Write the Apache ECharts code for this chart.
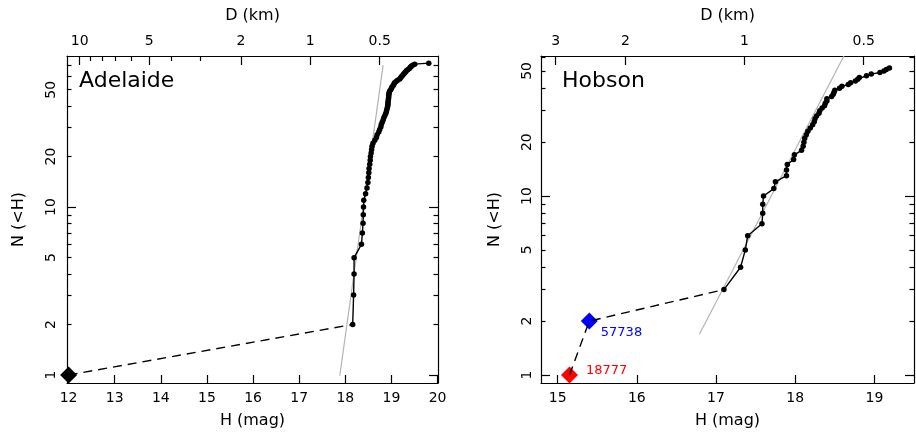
<!DOCTYPE html>
<html><head><meta charset="utf-8">
<script src="https://cdn.jsdelivr.net/npm/echarts@6/dist/echarts.min.js"></script>
<style>html,body{margin:0;padding:0;background:#fff}#c{width:916px;height:434px}</style>
</head><body><div id="c"></div>
<script>
// ---------- data ----------
const panelTitles = ['Adelaide', 'Hobson'];

// Adelaide family: cumulative N(<H)
const adelaideH = [12.00, 18.16, 18.18, 18.19, 18.19, 18.35, 18.37, 18.385, 18.39, 18.395,
  18.40, 18.44, 18.47, 18.49, 18.50, 18.51, 18.515, 18.53, 18.54, 18.545,
  18.56, 18.57, 18.58, 18.60, 18.64, 18.675, 18.69, 18.725, 18.745, 18.77,
  18.78, 18.80, 18.82, 18.835, 18.855, 18.875, 18.89, 18.90, 18.91, 18.92,
  18.925, 18.925, 18.93, 18.935, 18.94, 18.94, 18.945, 18.95, 18.96, 18.985,
  19.00, 19.015, 19.04, 19.055, 19.07, 19.10, 19.135, 19.18, 19.20, 19.22,
  19.245, 19.265, 19.29, 19.31, 19.33, 19.36, 19.39, 19.41, 19.43, 19.46,
  19.505, 19.81];
const adelaideN = [1, 2, 3, 4, 5, 6, 7, 8, 9, 10,
  11, 12, 13, 14, 15, 16, 17, 18, 19, 20,
  21, 22, 23, 24, 25, 26, 27, 28, 29, 30,
  31, 32, 33, 34, 35, 36, 37, 38, 39, 40,
  41, 42, 43, 44, 45, 46, 47, 48, 49, 50,
  51, 52, 53, 54, 55, 56, 57, 58, 59, 60,
  61, 62, 63, 64, 65, 66, 67, 68, 69, 70,
  71, 72];
const adelaideFitH = [17.88, 18.82];
const adelaideFitN = [0.99, 70];

// Hobson family
const hobsonH = [15.15, 15.40, 17.10, 17.31, 17.37, 17.40, 17.58, 17.59, 17.59, 17.60,
  17.73, 17.75, 17.89, 17.89, 17.90, 17.98, 17.99, 18.08, 18.10, 18.11,
  18.12, 18.14, 18.16, 18.19, 18.22, 18.24, 18.25, 18.27, 18.30, 18.31,
  18.34, 18.37, 18.38, 18.40, 18.40, 18.46, 18.48, 18.49, 18.50, 18.56,
  18.59, 18.67, 18.70, 18.76, 18.79, 18.81, 18.90, 18.96, 19.07, 19.12,
  19.15, 19.19];
const hobsonN = [1, 2, 3, 4, 5, 6, 7, 8, 9, 10,
  11, 12, 13, 14, 15, 16, 17, 18, 19, 20,
  21, 22, 23, 24, 25, 26, 27, 28, 29, 30,
  31, 32, 33, 34, 35, 36, 37, 38, 39, 40,
  41, 42, 43, 44, 45, 46, 47, 48, 49, 50,
  51, 52];
const hobsonFitH = [16.79, 18.615];
const hobsonFitN = [1.69, 60.6];
const hobsonNamed = ['18777', '57738'];   // first two members (diamonds)
const hobsonNamedColors = ['#ff0000', '#0000ff'];

// axes / ticks
const leftHRange = [11.965, 20.01];
const rightHRange = [14.79, 19.50];
const leftNRange = [0.896, 79.4];
const rightNRange = [0.902, 60.6];
const leftHTicks = [12, 13, 14, 15, 16, 17, 18, 19, 20];
const rightHTicks = [15, 16, 17, 18, 19];
const nLabelTicks = [1, 2, 5, 10, 20, 50];
const nMajorTicks = [1, 10];
const nMinorTicks = [2, 3, 4, 5, 6, 7, 8, 9, 20, 30, 40, 50, 60, 70];
const leftDMajor = [10, 5, 2, 1, 0.5];
const leftDMinor = [9, 8, 7, 6, 4, 3];
const rightDMajor = [3, 2, 1, 0.5];
const leftH1km = 17.24;   // H for D = 1 km
const rightH1km = 17.36;

// ---------- build ----------
const FONT = "'DejaVu Sans', sans-serif";
const K = '#000';
const grids = [
  {left: 67, top: 56, width: 371, height: 327},
  {left: 541, top: 56, width: 373, height: 327}
];

function bottomAxis(gi, range, ticks) {
  return {type: 'value', gridIndex: gi, position: 'bottom', min: range[0], max: range[1],
    name: 'H (mag)', nameLocation: 'middle', nameGap: 30,
    nameTextStyle: {fontFamily: FONT, fontSize: 16, color: K},
    axisLine: {show: true, onZero: false, lineStyle: {color: K, width: 1.2}},
    axisTick: {show: true, inside: true, length: 8, customValues: ticks, lineStyle: {color: K, width: 1.2}},
    axisLabel: {show: true, customValues: ticks, margin: 8, fontFamily: FONT, fontSize: 14, color: K,
      formatter: v => String(v)},
    splitLine: {show: false}};
}
function topAxis(gi, range, h1, dVals, labeled, len) {
  const hv = dVals.map(d => h1 - 5 * Math.log10(d));
  return {type: 'value', gridIndex: gi, position: 'top', min: range[0], max: range[1],
    name: labeled ? 'D (km)' : '', nameLocation: 'middle', nameGap: 32,
    nameTextStyle: {fontFamily: FONT, fontSize: 16, color: K},
    axisLine: {show: labeled, onZero: false, lineStyle: {color: K, width: 1.2}},
    axisTick: {show: true, inside: true, length: len, customValues: hv, lineStyle: {color: K, width: 1.2}},
    axisLabel: {show: labeled, customValues: hv, margin: 8, fontFamily: FONT, fontSize: 14, color: K,
      formatter: v => { const i = hv.findIndex(h => Math.abs(h - v) < 1e-6); return i >= 0 ? String(dVals[i]) : ''; }},
    splitLine: {show: false}};
}
function nAxis(gi, range, pos, ticks, len, withLine, labels) {
  const a = {type: 'log', logBase: 10, gridIndex: gi, position: pos, min: range[0], max: range[1],
    axisLine: {show: withLine, onZero: false, lineStyle: {color: K, width: 1.2}},
    axisTick: {show: true, inside: true, length: len, customValues: ticks, lineStyle: {color: K, width: 1.2}},
    axisLabel: {show: !!labels, customValues: labels || ticks, rotate: 90, margin: 9,
      fontFamily: FONT, fontSize: 14, color: K, formatter: v => String(v)},
    splitLine: {show: false}, minorTick: {show: false}};
  if (labels) {
    a.name = 'N (<H)'; a.nameLocation = 'middle'; a.nameRotate = 90; a.nameGap = 40;
    a.nameTextStyle = {fontFamily: FONT, fontSize: 16, color: K};
  }
  return a;
}

const xAxis = [
  bottomAxis(0, leftHRange, leftHTicks),                       // 0
  topAxis(0, leftHRange, leftH1km, leftDMajor, true, 9),       // 1
  topAxis(0, leftHRange, leftH1km, leftDMinor, false, 5),      // 2
  bottomAxis(1, rightHRange, rightHTicks),                     // 3
  topAxis(1, rightHRange, rightH1km, rightDMajor, true, 9)     // 4
];
const yAxis = [
  nAxis(0, leftNRange, 'left', nMajorTicks, 9, true, nLabelTicks),    // 0
  nAxis(0, leftNRange, 'left', nMinorTicks, 4.5, false, null),         // 1
  nAxis(0, leftNRange, 'right', nMajorTicks, 9, true, null),           // 2
  nAxis(0, leftNRange, 'right', nMinorTicks, 4.5, false, null),        // 3
  nAxis(1, rightNRange, 'left', nMajorTicks, 9, true, nLabelTicks),   // 4
  nAxis(1, rightNRange, 'left', nMinorTicks, 4.5, false, null),        // 5
  nAxis(1, rightNRange, 'right', nMajorTicks, 9, true, null),          // 6
  nAxis(1, rightNRange, 'right', nMinorTicks, 4.5, false, null)        // 7
];
yAxis[4].axisLabel.margin = 7;
yAxis[4].nameGap = 38;

const pairs = (hs, ns) => hs.map((h, i) => [h, ns[i]]);
const gray = {color: '#b3b3b3', width: 1.2};
const dash = {color: K, width: 1.4, type: [9, 6]};
const solid = {color: K, width: 1.4};

const aPts = pairs(adelaideH, adelaideN);
const hPts = pairs(hobsonH, hobsonN);

const series = [
  // Adelaide
  {type: 'line', xAxisIndex: 0, yAxisIndex: 0, data: pairs(adelaideFitH, adelaideFitN), symbol: 'none', lineStyle: gray, z: 1, silent: true},
  {type: 'line', xAxisIndex: 0, yAxisIndex: 0, data: aPts.slice(0, 2), symbol: 'none', lineStyle: dash, z: 2},
  {type: 'line', xAxisIndex: 0, yAxisIndex: 0, data: aPts.slice(1), symbol: 'circle', symbolSize: 5.5, showAllSymbol: true,
    itemStyle: {color: K}, lineStyle: solid, z: 3},
  {type: 'scatter', xAxisIndex: 0, yAxisIndex: 0, data: aPts.slice(0, 1), symbol: 'diamond', symbolSize: 17,
    itemStyle: {color: K, opacity: 1}, z: 4},
  // Hobson
  {type: 'line', xAxisIndex: 3, yAxisIndex: 4, data: pairs(hobsonFitH, hobsonFitN), symbol: 'none', lineStyle: gray, z: 1, silent: true},
  {type: 'line', xAxisIndex: 3, yAxisIndex: 4, data: hPts.slice(2), symbol: 'circle', symbolSize: 5.5, showAllSymbol: true,
    itemStyle: {color: K}, lineStyle: solid, z: 3},
  {type: 'scatter', xAxisIndex: 3, yAxisIndex: 4, symbol: 'diamond', symbolSize: 17, z: 4,
    data: hobsonNamed.map((nm, i) => ({value: hPts[i], name: nm, itemStyle: {color: hobsonNamedColors[i], opacity: 1},
      label: {show: true, formatter: nm, color: hobsonNamedColors[i], fontFamily: FONT, fontSize: 13,
        position: i === 0 ? [25, -2] : [20, 14]}}))},
  {type: 'line', xAxisIndex: 3, yAxisIndex: 4, data: hPts.slice(0, 3), symbol: 'none', lineStyle: dash, z: 5}
];

const title = panelTitles.map((t, i) => ({text: t, left: i === 0 ? 79 : 562, top: 70, padding: 0,
  textStyle: {fontFamily: FONT, fontSize: 22, fontWeight: 'normal', color: K}}));

const chart = echarts.init(document.getElementById('c'), null, {renderer: 'canvas'});
chart.setOption({animation: false, backgroundColor: '#fff', title, grid: grids, xAxis, yAxis, series});
</script>
</body></html>
